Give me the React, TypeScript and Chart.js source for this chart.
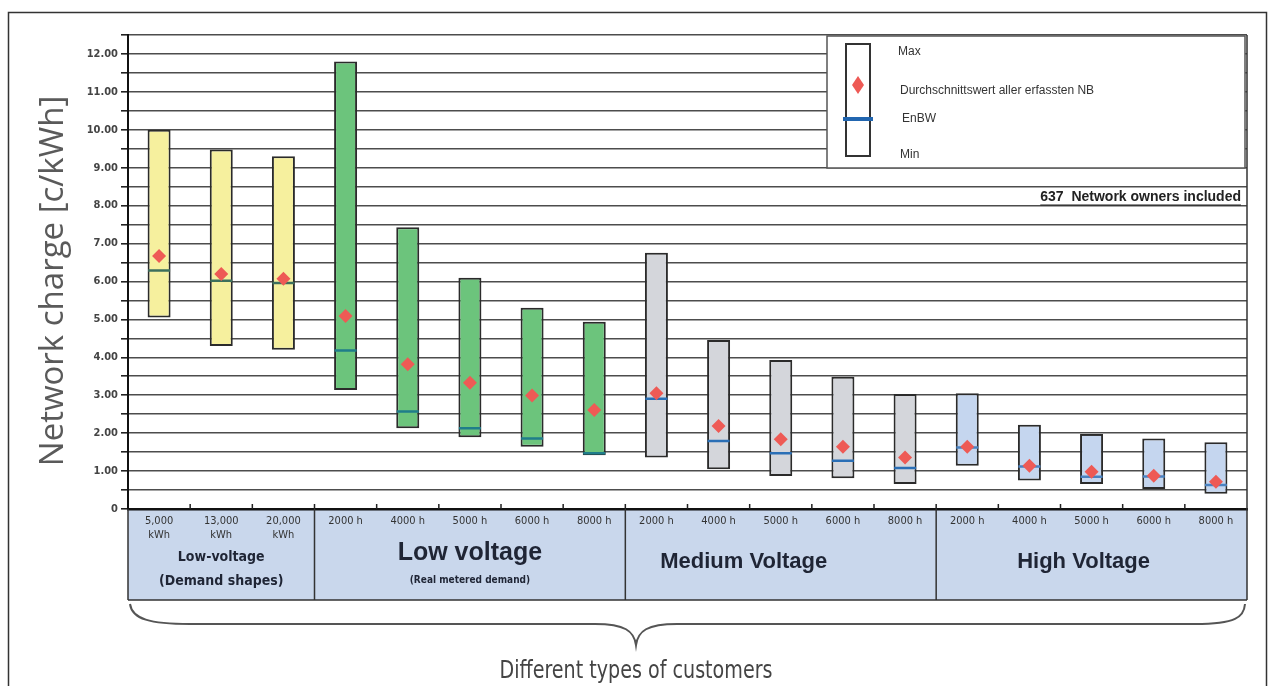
import React, { useEffect, useRef } from 'react';
import { Chart, registerables } from 'chart.js';

Chart.register(...registerables);

// ---------- data ----------
const categories: (string | string[])[] = [
  ['5,000', 'kWh'], ['13,000', 'kWh'], ['20,000', 'kWh'],
  '2000 h', '4000 h', '5000 h', '6000 h', '8000 h',
  '2000 h', '4000 h', '5000 h', '6000 h', '8000 h',
  '2000 h', '4000 h', '5000 h', '6000 h', '8000 h',
];
const minValues = [5.05, 4.3, 4.2, 3.14, 2.13, 1.89, 1.64, 1.42, 1.36, 1.05, 0.87, 0.81, 0.66, 1.14, 0.75, 0.66, 0.53, 0.4];
const maxValues = [10.0, 9.48, 9.3, 11.8, 7.43, 6.1, 5.31, 4.94, 6.76, 4.46, 3.93, 3.49, 3.03, 3.05, 2.22, 1.98, 1.86, 1.76];
const meanValues = [6.67, 6.2, 6.07, 5.09, 3.82, 3.33, 2.99, 2.61, 3.05, 2.19, 1.84, 1.64, 1.36, 1.64, 1.14, 0.98, 0.88, 0.72];
const enbwValues = [6.29, 6.02, 5.96, 4.18, 2.57, 2.13, 1.86, 1.47, 2.91, 1.79, 1.47, 1.27, 1.08, 1.62, 1.12, 0.85, 0.86, 0.63];

const groupNames = ['Low-voltage', 'Low voltage', 'Medium Voltage', 'High Voltage'];
const groupSubtitles = ['(Demand shapes)', '(Real metered demand)', '', ''];
const groupSizes = [3, 5, 5, 5];

const yMax = 12.5;
const yStep = 0.5;

const legendLabels = ['Max', 'Durchschnittswert aller erfassten NB', 'EnBW', 'Min'];
const noteText = '637  Network owners included';
const yTitle = 'Network charge [c/kWh]';
const xTitle = 'Different types of customers';

// ---------- styles ----------
const NARROW = '"Liberation Sans Narrow", "DejaVu Sans Condensed", sans-serif';
const SANS = '"Liberation Sans", Arial, sans-serif';
const groupFill = ['#f6f09e', '#6cc47c', '#d4d6db', '#c5d6ef'];
const groupEnbw = ['#3d6f5c', '#1f7d8a', '#2a6fb6', '#4a82c0'];

const groupOf = (i: number) => {
  let acc = 0;
  for (let g = 0; g < groupSizes.length; g++) {
    acc += groupSizes[g];
    if (i < acc) return g;
  }
  return groupSizes.length - 1;
};

const decorPlugin = {
  id: 'decor',
  beforeDraw(chart: any) {
    const { ctx, chartArea } = chart;
    ctx.save();
    ctx.fillStyle = '#ffffff';
    ctx.fillRect(0, 0, chart.width, chart.height);
    // category label band
    ctx.fillStyle = '#c9d7ec';
    ctx.fillRect(chartArea.left, chartArea.bottom, chartArea.right - chartArea.left, 91);
    ctx.restore();
  },
  afterDraw(chart: any) {
    const { ctx, chartArea } = chart;
    const xs = chart.scales.x;
    const n = categories.length;
    const cw = (chartArea.right - chartArea.left) / n;
    const bandTop = chartArea.bottom;
    const bandBottom = chartArea.bottom + 91;
    ctx.save();

    // band borders & dividers
    ctx.strokeStyle = '#333';
    ctx.lineWidth = 1.5;
    ctx.beginPath();
    ctx.moveTo(chartArea.left, bandBottom);
    ctx.lineTo(chartArea.right, bandBottom);
    ctx.moveTo(chartArea.left, bandTop);
    ctx.lineTo(chartArea.left, bandBottom);
    ctx.moveTo(chartArea.right, chartArea.top);
    ctx.lineTo(chartArea.right, bandBottom);
    let acc = 0;
    for (let g = 0; g < groupSizes.length - 1; g++) {
      acc += groupSizes[g];
      const x = xs.getPixelForValue(acc) - cw / 2;
      ctx.moveTo(x, bandTop);
      ctx.lineTo(x, bandBottom);
    }
    ctx.stroke();

    // small upward ticks at category boundaries
    ctx.lineWidth = 1.5;
    ctx.strokeStyle = '#222';
    ctx.beginPath();
    for (let i = 1; i < n; i++) {
      const x = xs.getPixelForValue(i) - cw / 2;
      ctx.moveTo(x, bandTop);
      ctx.lineTo(x, bandTop - 5);
    }
    ctx.stroke();

    // group labels
    const offsets = [0, 0, -37, -8];
    ctx.fillStyle = '#1f2535';
    ctx.textAlign = 'center';
    ctx.textBaseline = 'middle';
    acc = 0;
    for (let g = 0; g < groupSizes.length; g++) {
      const first = acc;
      const last = acc + groupSizes[g] - 1;
      acc += groupSizes[g];
      const cx = (xs.getPixelForValue(first) + xs.getPixelForValue(last)) / 2 + offsets[g];
      if (g === 0) {
        ctx.font = `bold 14px ${NARROW}`;
        ctx.fillText(groupNames[g], cx, bandTop + 48);
        ctx.fillText(groupSubtitles[g], cx, bandTop + 72);
      } else if (g === 1) {
        ctx.font = `bold 25px ${SANS}`;
        ctx.fillText(groupNames[g], cx, bandTop + 44);
        ctx.font = `bold 10px ${NARROW}`;
        ctx.fillText(groupSubtitles[g], cx, bandTop + 71);
      } else {
        ctx.font = `bold 22px ${SANS}`;
        ctx.fillText(groupNames[g], cx, bandTop + 53);
      }
    }

    // legend
    ctx.fillStyle = '#ffffff';
    ctx.fillRect(827, 36, 418, 132);
    ctx.strokeStyle = '#555';
    ctx.lineWidth = 1.5;
    ctx.strokeRect(827, 36, 418, 132);
    ctx.fillStyle = '#ffffff';
    ctx.fillRect(846, 44, 24, 112);
    ctx.strokeStyle = '#333';
    ctx.lineWidth = 2;
    ctx.strokeRect(846, 44, 24, 112);
    // diamond
    ctx.fillStyle = '#ee5a55';
    ctx.beginPath();
    ctx.moveTo(858, 76);
    ctx.lineTo(864, 85);
    ctx.lineTo(858, 94);
    ctx.lineTo(852, 85);
    ctx.closePath();
    ctx.fill();
    // blue line
    ctx.strokeStyle = '#2266b0';
    ctx.lineWidth = 4;
    ctx.beginPath();
    ctx.moveTo(843, 119);
    ctx.lineTo(873, 119);
    ctx.stroke();
    ctx.fillStyle = '#333';
    ctx.textAlign = 'left';
    ctx.textBaseline = 'middle';
    ctx.font = `12px ${SANS}`;
    const ly = [52, 91, 119, 155];
    const lx = [898, 900, 902, 900];
    legendLabels.forEach((t, i) => ctx.fillText(t, lx[i], ly[i]));

    // note
    ctx.font = `bold 14px ${SANS}`;
    ctx.textAlign = 'right';
    ctx.fillStyle = '#222';
    ctx.fillText(noteText, 1241, 197);
    const w = ctx.measureText(noteText).width;
    ctx.strokeStyle = '#222';
    ctx.lineWidth = 1.2;
    ctx.beginPath();
    ctx.moveTo(1241 - w, 205);
    ctx.lineTo(1241, 205);
    ctx.stroke();

    // y title
    ctx.save();
    ctx.translate(54, 281);
    ctx.rotate(-Math.PI / 2);
    ctx.font = `33px "Open Sans", sans-serif`;
    ctx.fillStyle = '#5a5a5a';
    ctx.textAlign = 'center';
    ctx.textBaseline = 'middle';
    ctx.fillText(yTitle, 0, 0);
    ctx.restore();

    // brace
    ctx.strokeStyle = '#555';
    ctx.lineWidth = 2;
    ctx.beginPath();
    ctx.moveTo(130, 604);
    ctx.bezierCurveTo(132, 619, 150, 624, 190, 624);
    ctx.lineTo(595, 624);
    ctx.bezierCurveTo(625, 624, 634, 631, 636, 645);
    ctx.bezierCurveTo(638, 631, 647, 624, 677, 624);
    ctx.lineTo(1195, 624);
    ctx.bezierCurveTo(1236, 624, 1244, 617, 1245, 604);
    ctx.stroke();

    // x title (horizontally condensed)
    ctx.save();
    ctx.translate(636, 678);
    ctx.scale(0.85, 1);
    ctx.font = `25px ${NARROW}`;
    ctx.fillStyle = '#444';
    ctx.textAlign = 'center';
    ctx.textBaseline = 'alphabetic';
    ctx.fillText(xTitle, 0, 0);
    ctx.restore();

    // outer frame
    ctx.strokeStyle = '#333';
    ctx.lineWidth = 1.5;
    ctx.strokeRect(8.5, 12.5, 1258, 700);

    ctx.restore();
  },
};

export default function App() {
  const ref = useRef<HTMLCanvasElement | null>(null);

  useEffect(() => {
    if (!ref.current) return;
    const barColors = categories.map((_, i) => groupFill[groupOf(i)]);
    const enbwColors = categories.map((_, i) => groupEnbw[groupOf(i)]);
    const chart = new Chart(ref.current, {
      type: 'bar',
      data: {
        labels: categories as any,
        datasets: [
          {
            type: 'line' as any,
            label: 'Durchschnittswert',
            data: meanValues,
            showLine: false,
            pointStyle: 'rectRot',
            pointRadius: 7,
            pointHoverRadius: 7,
            pointBackgroundColor: '#ee5a55',
            pointBorderColor: '#ee5a55',
            pointBorderWidth: 0,
            order: 1,
          } as any,
          {
            type: 'line' as any,
            label: 'EnBW',
            data: enbwValues,
            showLine: false,
            pointStyle: 'line',
            pointRadius: 11,
            pointHoverRadius: 11,
            pointBorderColor: enbwColors,
            pointBorderWidth: 2.5,
            order: 2,
          } as any,
          {
            label: 'Range',
            data: minValues.map((v, i) => [v, maxValues[i]]) as any,
            backgroundColor: barColors,
            borderColor: '#2b2b2b',
            borderWidth: 2,
            borderSkipped: false,
            barPercentage: 0.37,
            categoryPercentage: 1,
            order: 3,
          },
        ],
      },
      options: {
        animation: false,
        responsive: true,
        maintainAspectRatio: false,
        layout: { padding: { left: 78, right: 24, top: 35, bottom: 86 } },
        plugins: { legend: { display: false }, tooltip: { enabled: false } },
        scales: {
          x: {
            type: 'category',
            offset: true,
            grid: { display: false, drawTicks: false },
            border: { display: true, color: '#111', width: 2.5 },
            ticks: {
              color: '#333',
              font: { family: NARROW, size: 11 },
              padding: 6,
              maxRotation: 0,
              autoSkip: false,
            },
            afterFit: (s: any) => { s.height = 91; },
          },
          y: {
            min: 0,
            max: yMax,
            ticks: {
              stepSize: yStep,
              color: '#444',
              font: { family: NARROW, size: 11, weight: 'bold' },
              padding: 3,
              callback: (v: any) => {
                const n = Number(v);
                if (n === 0) return '0';
                if (Math.abs(n - Math.round(n)) > 1e-6) return '';
                return n.toFixed(2);
              },
            },
            grid: { color: '#4d4d4d', lineWidth: 1.6, tickLength: 7, tickColor: '#222' },
            border: { display: true, color: '#111', width: 2 },
            afterFit: (s: any) => { s.width = 50; },
          },
        },
      },
      plugins: [decorPlugin],
    });
    return () => chart.destroy();
  }, []);

  return (
    <div style={{ position: 'fixed', left: 0, top: 0, width: 1271, height: 686, background: '#fff' }}>
      <canvas ref={ref} />
    </div>
  );
}
